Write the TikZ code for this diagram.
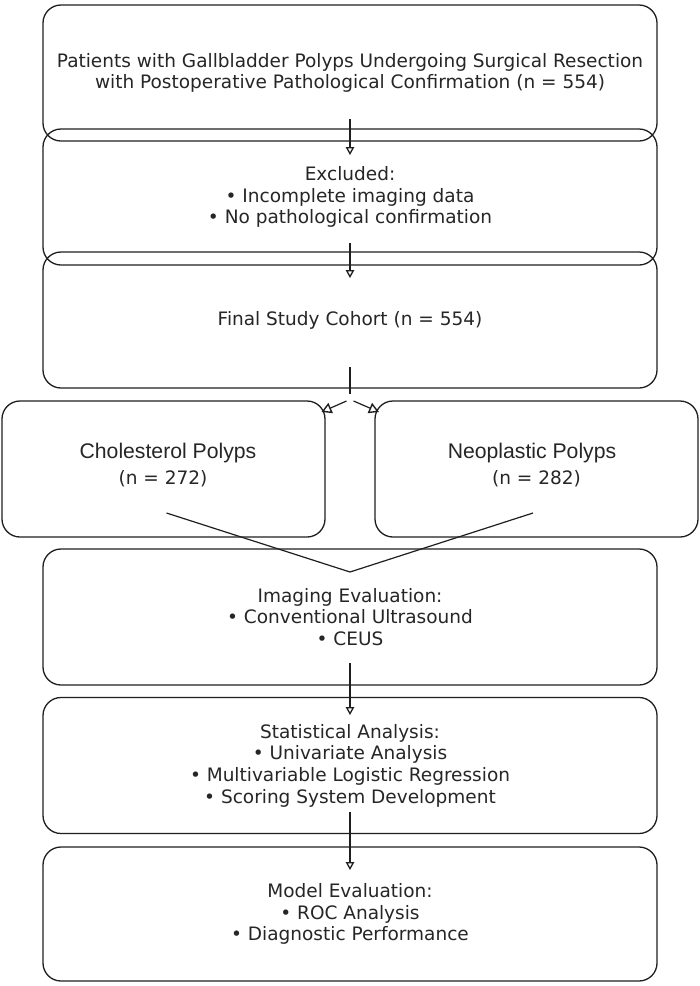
\documentclass[tikz,border=0pt]{standalone}
\usepackage{fontspec}
\setmainfont{DejaVu Sans}
\newfontfamily\arialf{Liberation Sans}
\usetikzlibrary{arrows.meta}
\begin{document}
\begin{tikzpicture}[x=1pt,y=-1pt,
 box/.style={draw=black!88, line width=1.3pt, rounded corners=18pt, minimum width=614pt, minimum height=136pt, inner sep=0pt, align=center, font=\fontsize{18.5}{21.7}\selectfont, text=black!85},
 side/.style={box, minimum width=323pt},
 lbl/.style={inner sep=0pt, align=center, text=black!85, font=\fontsize{18.5}{21.7}\selectfont},
 arr/.style={draw=black!88, line width=1.2pt, -{Triangle[open,width=8.5pt,length=8pt,line width=1.3pt]}},
 darr/.style={draw=black!88, line width=1.2pt, -{Triangle[open,width=11pt,length=10pt,line width=1.4pt]}},
 ln/.style={draw=black!88, line width=1.2pt}]
\useasboundingbox (0,0) rectangle (700,986);
\fill[white] (0,0) rectangle (700,986);
\node[box] (b1) at (350,73) {Patients with Gallbladder Polyps Undergoing Surgical Resection\\with Postoperative Pathological Confirmation (n = 554)};
\node[box] (b2) at (350,197) {Excluded:\\• Incomplete imaging data\\• No pathological confirmation};
\node[box] (b3) at (350,320) {Final Study Cohort (n = 554)};
\node[side] (cl) at (163.5,469) {};
\node[side] (ne) at (536.5,469) {};
\node[lbl, font=\arialf\fontsize{21.2}{24}\selectfont] (clt) at (168,453) {Cholesterol Polyps};
\node[lbl] (cln) at (163,479) {(n = 272)};
\node[lbl, font=\arialf\fontsize{21.2}{24}\selectfont] (net) at (532,453) {Neoplastic Polyps};
\node[lbl] (nen) at (536.5,479) {(n = 282)};
\node[box] (b4) at (350,617) {Imaging Evaluation:\\• Conventional Ultrasound\\• CEUS};
\node[box] (b5) at (350,765.5) {Statistical Analysis:\\• Univariate Analysis\\• Multivariable Logistic Regression\\• Scoring System Development};
\node[box, minimum height=134pt] (b6) at (350,914) {Model Evaluation:\\• ROC Analysis\\• Diagnostic Performance};
% connector end points
\coordinate (s1) at (350,119); \coordinate (e1) at (350,155);
\coordinate (s2) at (350,243); \coordinate (e2) at (350,278);
\coordinate (s3) at (350,367); \coordinate (m3) at (350,394);
\coordinate (l3) at (346.5,401); \coordinate (le3) at (321.5,412);
\coordinate (r3) at (353.5,401); \coordinate (re3) at (379,412);
\coordinate (cs) at (166.5,513); \coordinate (ns) at (533,513); \coordinate (v) at (350,572);
\coordinate (s4) at (350,663); \coordinate (e4) at (350,715);
\coordinate (s5) at (350,812); \coordinate (e5) at (350,870);
\draw[arr] (s1) -- (e1);
\draw[arr] (s2) -- (e2);
\draw[ln] (s3) -- (m3);
\draw[darr] (l3) -- (le3);
\draw[darr] (r3) -- (re3);
\draw[ln] (cs) -- (v) -- (ns);
\draw[arr] (s4) -- (e4);
\draw[arr] (s5) -- (e5);
\end{tikzpicture}
\end{document}
